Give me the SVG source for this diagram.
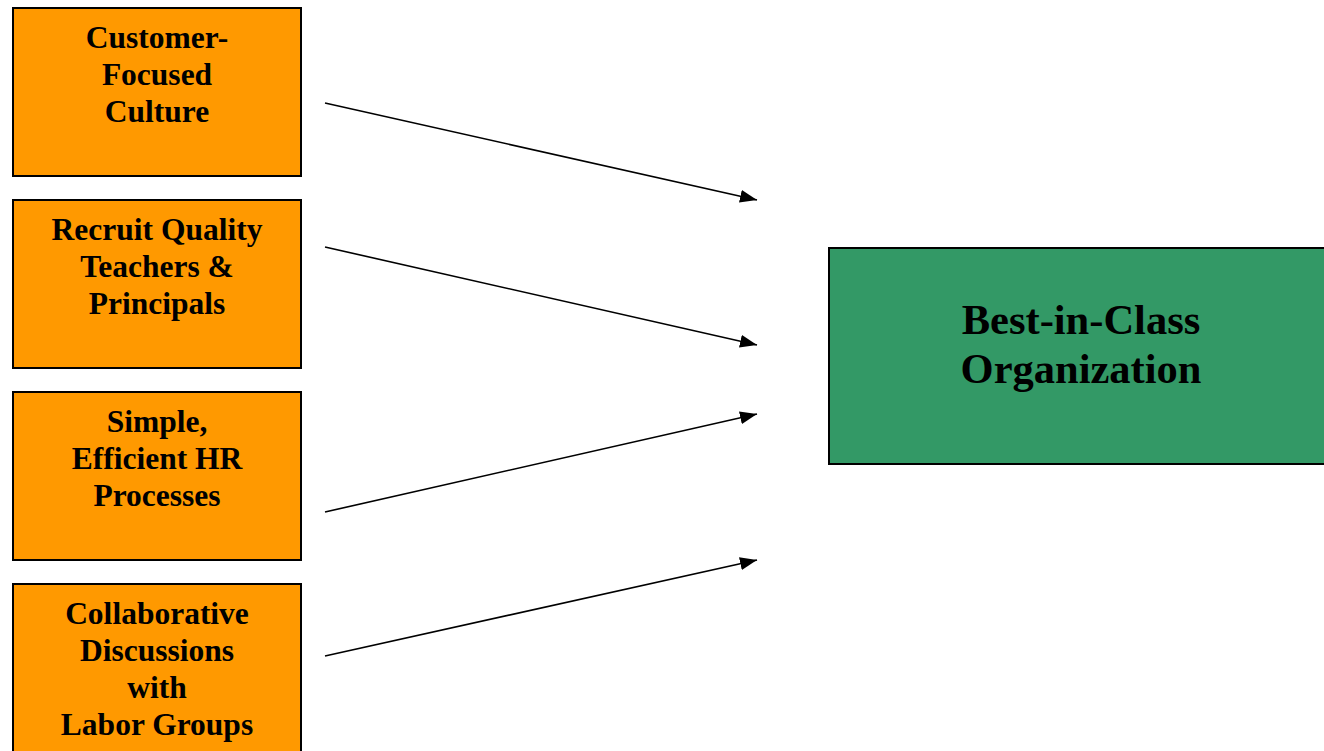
<svg xmlns="http://www.w3.org/2000/svg" width="1324" height="751" viewBox="0 0 1324 751">
<defs>
<marker id="ah" viewBox="0 0 10 10" refX="10" refY="5" markerWidth="17" markerHeight="13" markerUnits="userSpaceOnUse" orient="auto" preserveAspectRatio="none">
<path d="M0,0 L10,5 L0,10 Z" fill="#000"/>
</marker>
<style>
.box{fill:#FF9900;stroke:#000;stroke-width:2}
.gbox{fill:#339966;stroke:#000;stroke-width:2}
.t{font-family:"Liberation Serif","Times New Roman",serif;font-weight:bold;font-size:31.5px;text-anchor:middle;fill:#000}
.gt{font-family:"Liberation Serif","Times New Roman",serif;font-weight:bold;font-size:42.5px;text-anchor:middle;fill:#000}
.c{stroke:#000;stroke-width:1.6;fill:none;marker-end:url(#ah)}
</style>
</defs>
<rect width="1324" height="751" fill="#fff"/>
<g id="n1"><rect class="box" x="13" y="8" width="288" height="168"/>
<text class="t" x="157" y="48">Customer-</text><text class="t" x="157" y="85">Focused</text><text class="t" x="157" y="122">Culture</text></g>
<g id="n2"><rect class="box" x="13" y="200" width="288" height="168"/>
<text class="t" x="157" y="240">Recruit Quality</text><text class="t" x="157" y="277">Teachers &amp;</text><text class="t" x="157" y="314">Principals</text></g>
<g id="n3"><rect class="box" x="13" y="392" width="288" height="168"/>
<text class="t" x="157" y="432">Simple,</text><text class="t" x="157" y="469">Efficient HR</text><text class="t" x="157" y="506">Processes</text></g>
<g id="n4"><rect class="box" x="13" y="584" width="288" height="180"/>
<text class="t" x="157" y="624">Collaborative</text><text class="t" x="157" y="661">Discussions</text><text class="t" x="157" y="698">with</text><text class="t" x="157" y="735">Labor Groups</text></g>
<g id="n5"><rect class="gbox" x="829" y="248" width="500" height="216"/>
<text class="gt" x="1081" y="334">Best-in-Class</text><text class="gt" x="1081" y="383">Organization</text></g>
<g id="connectors">
<line class="c" x1="325" y1="103" x2="757" y2="200"/>
<line class="c" x1="325" y1="247" x2="757" y2="345"/>
<line class="c" x1="325" y1="512" x2="757" y2="414"/>
<line class="c" x1="325" y1="656" x2="757" y2="560"/>
</g>
</svg>
